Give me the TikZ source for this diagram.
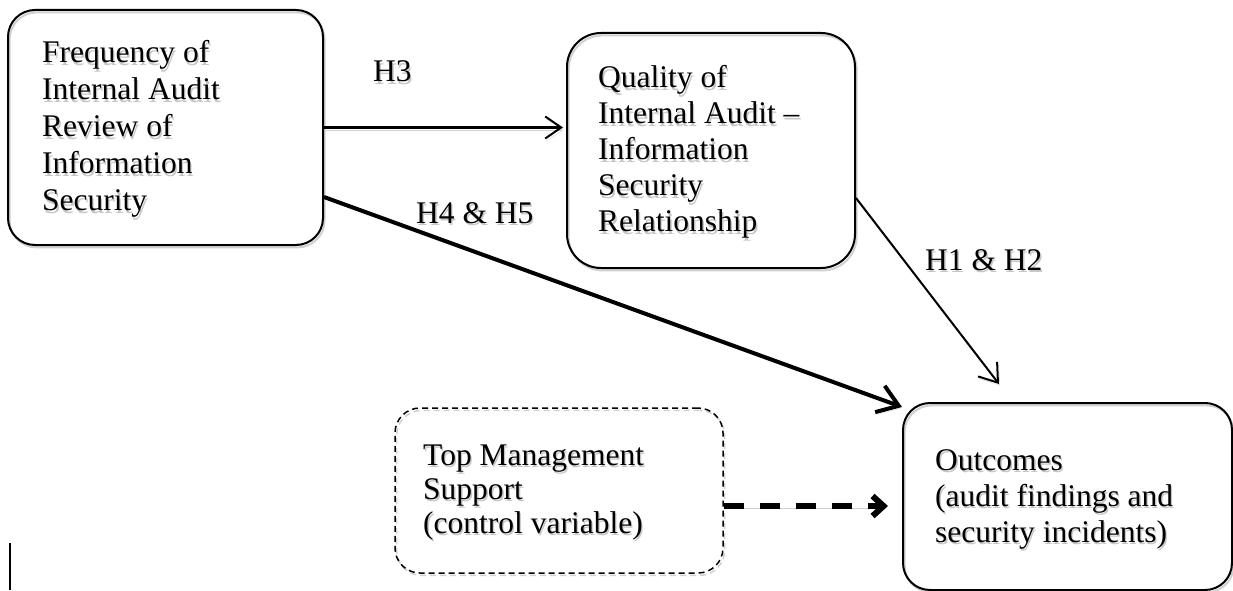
\documentclass[tikz,border=0pt]{standalone}
\usepackage{fontspec}
\setmainfont{Liberation Serif}
\usetikzlibrary{arrows.meta}

% one line of text with a soft grey copy underneath
\newcommand\shline[1]{\hbox{\rlap{\kern1.3pt\raisebox{-2.2pt}{\textcolor{black!22}{#1}}}#1}}
\newcommand\block[2]{\vtop{\baselineskip=#1\relax #2}}

\tikzset{
  ghost/.style={preaction={draw=black!18, transform canvas={shift={(1.6pt,-2.4pt)}}}},
  box/.style={draw, line width=2pt, rounded corners=27pt, ghost,
    minimum width=#1},
  txt/.style={inner sep=0pt, anchor=base west,
    font=\fontsize{31.5pt}{37pt}\selectfont},
  conn/.style={line width=2pt, ghost},
  thin tip/.style={-{Straight Barb[length=16pt,width=22pt]}},
}

\begin{document}
\begin{tikzpicture}[x=1pt,y=-1pt]
\path[use as bounding box, fill=white] (0,0) rectangle (1233,591);

% boxes
\node[box=315pt, minimum height=235pt] (A) at (165.5,127.5) {};
\node[box=288pt, minimum height=235pt, rounded corners=34pt] (B) at (711,150.5) {};
\node[draw, line width=1.5pt, dash pattern=on 6pt off 4pt, rounded corners=25pt, ghost,
      minimum width=328pt, minimum height=165pt] (C) at (559,490.5) {};
\node[box=329pt, minimum height=187pt] (D) at (1067.5,496.5) {};

% box texts
\node[txt] (tA) at (42,63) {\block{37pt}{\shline{Frequency of}\shline{Internal Audit}\shline{Review of}\shline{Information}\shline{Security}}};
\node[txt] (tB) at (598,88) {\block{36pt}{\shline{Quality of}\shline{Internal Audit –}\shline{Information}\shline{Security}\shline{Relationship}}};
\node[txt] (tC) at (423,465) {\block{34pt}{\shline{Top Management}\shline{Support}\shline{(control variable)}}};
\node[txt] (tD) at (935,470) {\block{36pt}{\shline{Outcomes}\shline{(audit findings and}\shline{security incidents)}}};

% hypothesis labels
\node[txt] (h3) at (373,82) {\shline{H3}};
\node[txt] (h45) at (416,223) {\shline{H4 \& H5}};
\node[txt] (h12) at (925,270) {\shline{H1 \& H2}};

% connectors
\draw[conn, thin tip, shorten >=3pt] (A.east) -- (A.east -| B.west);
\draw[line width=4pt, ghost, -{Straight Barb[length=20pt,width=28pt]}]
  ([yshift=-69.5pt]A.east) -- ([yshift=-5pt]D.north west);
\draw[conn, -{Straight Barb[length=17pt,width=24pt]}]
  ([yshift=-47.5pt]B.east) -- ([shift={(97pt,18pt)}]D.north west);
\coordinate (cc) at ([yshift=-15.5pt]C.east);
\draw[line width=6pt, dash pattern=on 20pt off 16pt, ghost,
      -{Straight Barb[length=11pt,width=20pt]}, shorten >=14pt]
  (cc) -- (cc -| D.west);

% cursor mark
\draw[line width=2pt] (10,543) -- (10,590);
\end{tikzpicture}
\end{document}
